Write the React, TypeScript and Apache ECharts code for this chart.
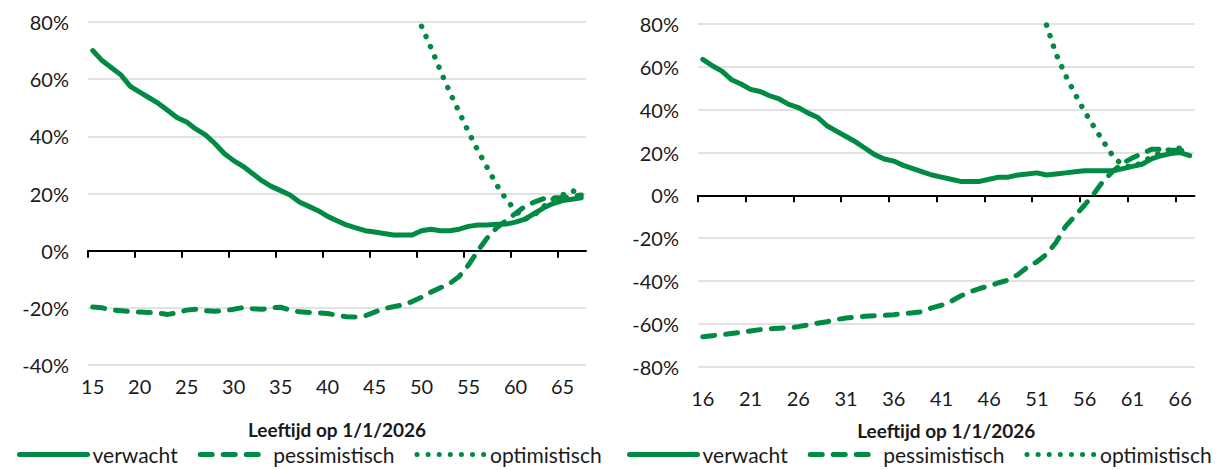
import React, { useEffect, useRef } from "react";
import * as echarts from "echarts";

const GREEN = "#008A43";
const FONT = "Lato";
const TEXT = "#1a1a1a";

const agesLeft = [15,16,17,18,19,20,21,22,23,24,25,26,27,28,29,30,31,32,33,34,35,36,37,38,39,40,41,42,43,44,45,46,47,48,49,50,51,52,53,54,55,56,57,58,59,60,61,62,63,64,65,66,67];
const leftExpected = [70,66.5,64,61.5,57.5,55.5,53.5,51.5,49,46.5,45,42.5,40.5,37.5,34,31.5,29.5,27,24.5,22.5,21,19.5,17,15.5,14,12,10.5,9,8,7,6.5,6,5.5,5.5,5.5,7,7.5,7,7,7.5,8.5,9,9,9.2,9.3,10,11,13,15,16.5,17.5,18,18.5];
const leftPessimistic = [-19.7,-20,-20.7,-21,-21.3,-21.5,-21.6,-21.8,-22.3,-21.7,-20.8,-20.5,-21,-21.2,-21,-20.5,-19.9,-20.3,-20.5,-20,-19.8,-20.8,-21.4,-21.6,-21.7,-22,-22.6,-23.1,-23.2,-22.8,-21.5,-20.3,-19.6,-19,-17.8,-16.3,-14.5,-13,-11.5,-9,-5,0,4.5,8,10.5,13,15.5,17,18.2,18.5,18.5,19,19.5];
const leftOptimistic = [null,null,null,null,null,null,null,null,null,null,null,null,null,null,null,null,null,null,null,null,null,null,null,null,null,null,null,null,null,null,null,null,null,null,null,78.5,71,63,55.5,48.5,41.5,35,29,23,18,14,11,12.5,15.5,18,19.5,21,20];

const agesRight = [16,17,18,19,20,21,22,23,24,25,26,27,28,29,30,31,32,33,34,35,36,37,38,39,40,41,42,43,44,45,46,47,48,49,50,51,52,53,54,55,56,57,58,59,60,61,62,63,64,65,66,67];
const rightExpected = [63.5,60.5,58,54,52,49.5,48.5,46.5,45,42.5,41,38.5,36.5,32.5,30,27.5,25,22,19,17,16,14,12.5,11,9.5,8.5,7.5,6.5,6.5,6.5,7.5,8.5,8.5,9.5,10,10.5,9.5,10,10.5,11,11.5,11.5,11.5,11.5,12.5,13.5,14.5,17,18.5,19.5,20,18.5];
const rightPessimistic = [-66,-65.5,-65,-64.5,-64,-63.3,-62.7,-62.3,-62,-61.9,-61.3,-60.5,-59.7,-59,-58,-57.3,-56.8,-56.5,-56.2,-56,-55.7,-55.2,-54.8,-54.3,-52.5,-51.3,-49.5,-47,-45,-43.5,-42.3,-40.8,-39.5,-37,-33.5,-31,-27.5,-22,-14.5,-9.5,-4.5,1,7,11.5,15,17.5,19.5,21.5,21.5,21,21,20.5];
const rightOptimistic = [null,null,null,null,null,null,null,null,null,null,null,null,null,null,null,null,null,null,null,null,null,null,null,null,null,null,null,null,null,null,null,null,null,null,null,null,79.5,66,56,47.3,39,31.8,24.8,18,14,13,15.5,18,20,21.5,22,21.5];

const leftTickLabels = [15,20,25,30,35,40,45,50,55,60,65];
const leftTickMarks = [14.5,19.5,24.5,29.5,34.5,39.5,44.5,49.5,54.5,59.5,64.5];
const rightTickLabels = [16,21,26,31,36,41,46,51,56,61,66];
const rightTickMarks = [15.5,20.5,25.5,30.5,35.5,40.5,45.5,50.5,55.5,60.5,65.5];

const seriesNames = ["verwacht", "pessimistisch", "optimistisch"];
const axisTitle = "Leeftijd op 1/1/2026";

function pairs(ages: number[], vals: (number | null)[]) {
  return ages.map((a, i) => [a, vals[i] == null ? "-" : vals[i]]);
}

const lineStyles: any[] = [
  { color: GREEN, width: 5, type: "solid", cap: "round", join: "round" },
  { color: GREEN, width: 5, type: [12, 11], cap: "round", join: "round" },
  { color: GREEN, width: 5.5, type: [0.1, 11], cap: "round", join: "round" },
];

function labelAxis(gridIndex: number, min: number, max: number, labels: number[], margin: number, nameGap: number) {
  return {
    type: "value",
    gridIndex,
    min,
    max,
    position: "bottom",
    axisLine: { show: false, onZero: false },
    axisTick: { show: false },
    splitLine: { show: false },
    axisLabel: { customValues: labels, margin, fontSize: 20, fontFamily: FONT, color: TEXT },
    name: axisTitle,
    nameLocation: "middle",
    nameGap,
    nameTextStyle: { fontSize: 19, lineHeight: 19, fontWeight: "bold", fontFamily: FONT, color: TEXT },
  };
}

function zeroAxis(gridIndex: number, min: number, max: number, ticks: number[]) {
  return {
    type: "value",
    gridIndex,
    min,
    max,
    position: "bottom",
    axisLine: { show: true, onZero: true, lineStyle: { color: "#000", width: 2 } },
    axisTick: { show: true, customValues: ticks, length: 7, inside: false, lineStyle: { color: "#000", width: 2 } },
    axisLabel: { show: false },
    splitLine: { show: false },
  };
}

function yAxis(gridIndex: number, min: number, max: number) {
  return {
    type: "value",
    gridIndex,
    min,
    max,
    interval: 20,
    axisLine: { show: false },
    axisTick: { show: false },
    splitLine: { lineStyle: { color: "#d9d9d9", width: 1.5 } },
    axisLabel: { formatter: "{value}%", margin: 19, fontSize: 20, fontFamily: FONT, color: TEXT },
  };
}

function legend(left: number) {
  return {
    left,
    top: 439,
    width: 600,
    itemWidth: 68,
    itemHeight: 14,
    itemGap: 20,
    selectedMode: false,
    data: seriesNames,
    itemStyle: { opacity: 0 },
    lineStyle: { width: 5 },
    textStyle: { fontSize: 21, lineHeight: 19, fontFamily: FONT, color: TEXT },
  };
}

export default function App() {
  const ref = useRef<HTMLDivElement>(null);
  useEffect(() => {
    document.body.style.margin = "0";
    if (!ref.current) return;
    const chart = echarts.init(ref.current, undefined, { renderer: "svg" });
    const leftSets = [leftExpected, leftPessimistic, leftOptimistic];
    const rightSets = [rightExpected, rightPessimistic, rightOptimistic];
    const series: any[] = [];
    seriesNames.forEach((name, k) => {
      series.push({
        name,
        type: "line",
        xAxisIndex: 0,
        yAxisIndex: 0,
        data: pairs(agesLeft, leftSets[k]),
        showSymbol: false,
        symbol: "none",
        lineStyle: lineStyles[k],
        itemStyle: { color: GREEN },
      });
    });
    seriesNames.forEach((name, k) => {
      series.push({
        name,
        type: "line",
        xAxisIndex: 2,
        yAxisIndex: 1,
        data: pairs(agesRight, rightSets[k]),
        showSymbol: false,
        symbol: "none",
        lineStyle: lineStyles[k],
        itemStyle: { color: GREEN },
      });
    });
    chart.setOption({
      animation: false,
      grid: [
        { left: 88, top: 22, width: 498, height: 343 },
        { left: 698, top: 24, width: 496.5, height: 342.7 },
      ],
      xAxis: [
        labelAxis(0, 14.5, 67.5, leftTickLabels, 11, 55),
        zeroAxis(0, 14.5, 67.5, leftTickMarks),
        labelAxis(1, 15.5, 67.5, rightTickLabels, 21, 54),
        zeroAxis(1, 15.5, 67.5, rightTickMarks),
      ],
      yAxis: [yAxis(0, -40, 80), yAxis(1, -80, 80)],
      legend: [legend(12), legend(622)],
      series,
    });
    return () => chart.dispose();
  }, []);
  return <div ref={ref} style={{ width: 1222, height: 470 }} />;
}
